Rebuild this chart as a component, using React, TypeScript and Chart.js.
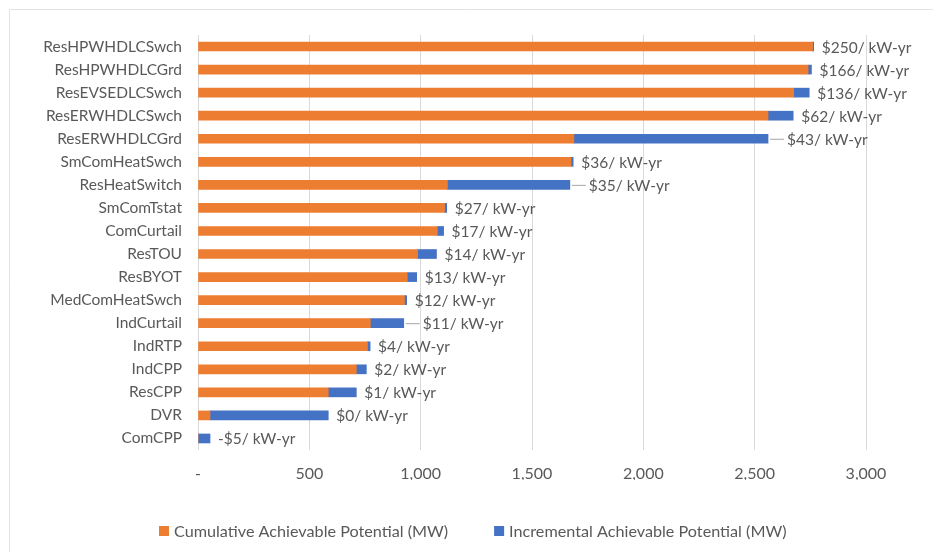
import React, { useEffect, useRef } from "react";
import { Chart, registerables } from "chart.js";

Chart.register(...registerables);

const categories = [
  "ResHPWHDLCSwch",
  "ResHPWHDLCGrd",
  "ResEVSEDLCSwch",
  "ResERWHDLCSwch",
  "ResERWHDLCGrd",
  "SmComHeatSwch",
  "ResHeatSwitch",
  "SmComTstat",
  "ComCurtail",
  "ResTOU",
  "ResBYOT",
  "MedComHeatSwch",
  "IndCurtail",
  "IndRTP",
  "IndCPP",
  "ResCPP",
  "DVR",
  "ComCPP",
];

const cumulative = [2760, 2740, 2675, 2560, 1688, 1675, 1120, 1107, 1075, 986, 940, 927, 774, 761, 711, 585, 54, 0];
const incremental = [5, 15, 70, 113, 872, 10, 550, 10, 28, 85, 42, 10, 150, 12, 45, 126, 531, 54];

const costLabels = [
  "$250/ kW-yr",
  "$166/ kW-yr",
  "$136/ kW-yr",
  "$62/ kW-yr",
  "$43/ kW-yr",
  "$36/ kW-yr",
  "$35/ kW-yr",
  "$27/ kW-yr",
  "$17/ kW-yr",
  "$14/ kW-yr",
  "$13/ kW-yr",
  "$12/ kW-yr",
  "$11/ kW-yr",
  "$4/ kW-yr",
  "$2/ kW-yr",
  "$1/ kW-yr",
  "$0/ kW-yr",
  "-$5/ kW-yr",
];

const seriesNames = ["Cumulative Achievable Potential (MW)", "Incremental Achievable Potential (MW)"];
const xMin = 0;
const xMax = 3000;
const xStep = 500;

// rows whose label is connected by a leader line
const leaderLineRows = [4, 6, 12];

const ORANGE = "#ED7D31";
const BLUE = "#4472C4";
const TEXT = "#595959";
const GRID = "#d9d9d9";
const FONT = "Lato, 'Open Sans', sans-serif";

const framePlugin = {
  id: "frame",
  beforeDraw(chart: any) {
    const { ctx, width, height } = chart;
    ctx.save();
    ctx.fillStyle = "#ffffff";
    ctx.fillRect(0, 0, width, height);
    ctx.strokeStyle = "#e3e3e3";
    ctx.lineWidth = 1;
    ctx.beginPath();
    ctx.moveTo(9.5, height);
    ctx.lineTo(9.5, 9.5);
    ctx.lineTo(width, 9.5);
    ctx.stroke();
    ctx.restore();
  },
};

const labelPlugin = {
  id: "costLabels",
  afterDatasetsDraw(chart: any) {
    const { ctx } = chart;
    const meta = chart.getDatasetMeta(1);
    ctx.save();
    ctx.font = `15.5px ${FONT}`;
    ctx.fillStyle = TEXT;
    ctx.textBaseline = "middle";
    ctx.textAlign = "left";
    meta.data.forEach((el: any, i: number) => {
      const xEnd = el.x;
      const y = el.y;
      let tx = xEnd + 8;
      if (leaderLineRows.includes(i)) {
        ctx.strokeStyle = "#a6a6a6";
        ctx.lineWidth = 1;
        ctx.beginPath();
        ctx.moveTo(xEnd + 2, y + 0.5);
        ctx.lineTo(xEnd + 16, y + 0.5);
        ctx.stroke();
        tx = xEnd + 19;
      }
      ctx.fillText(costLabels[i], tx, y + 1);
    });
    ctx.restore();
  },
};

const legendPlugin = {
  id: "customLegend",
  afterDraw(chart: any) {
    const { ctx } = chart;
    const colors = [ORANGE, BLUE];
    ctx.save();
    ctx.font = `16.2px ${FONT}`;
    ctx.textBaseline = "middle";
    ctx.textAlign = "left";
    const y = 531;
    let x = 159;
    seriesNames.forEach((name, i) => {
      ctx.fillStyle = colors[i];
      ctx.fillRect(x, y - 5, 10, 10);
      ctx.fillStyle = TEXT;
      ctx.fillText(name, x + 15, y + 1);
      x += 15 + ctx.measureText(name).width + 46;
    });
    ctx.restore();
  },
};

export default function App() {
  const canvasRef = useRef<HTMLCanvasElement | null>(null);

  useEffect(() => {
    const canvas = canvasRef.current;
    if (!canvas) return;
    const chart = new Chart(canvas, {
      type: "bar",
      data: {
        labels: categories,
        datasets: [
          {
            label: seriesNames[0],
            data: cumulative,
            backgroundColor: ORANGE,
            barThickness: 9,
          },
          {
            label: seriesNames[1],
            data: incremental,
            backgroundColor: BLUE,
            barThickness: 9,
          },
        ],
      },
      options: {
        indexAxis: "y",
        animation: false,
        responsive: false,
        maintainAspectRatio: false,
        devicePixelRatio: 1,
        layout: { padding: { left: 0, right: 67, top: 35, bottom: 72 } },
        plugins: {
          legend: { display: false },
          tooltip: { enabled: false },
        },
        scales: {
          x: {
            stacked: true,
            min: xMin,
            max: xMax,
            afterFit: (s: any) => {
              s.height = 30;
            },
            ticks: {
              stepSize: xStep,
              color: TEXT,
              font: { family: FONT, size: 16 },
              padding: 14,
              callback: (v: any) => (Number(v) === 0 ? "-" : Number(v).toLocaleString("en-US")),
            },
            grid: { color: GRID, drawTicks: false, lineWidth: 1 },
            border: { display: false },
          },
          y: {
            stacked: true,
            afterFit: (s: any) => {
              s.width = 198;
            },
            ticks: {
              color: TEXT,
              font: { family: FONT, size: 15.5 },
              padding: 16,
              autoSkip: false,
            },
            grid: { display: false, drawTicks: false },
            border: { display: false },
          },
        },
      },
      plugins: [framePlugin, labelPlugin, legendPlugin],
    });
    return () => chart.destroy();
  }, []);

  return (
    <div style={{ position: "fixed", left: 0, top: 0, width: 933, height: 552, background: "#fff" }}>
      <canvas ref={canvasRef} width={933} height={552} style={{ width: 933, height: 552, display: "block" }} />
    </div>
  );
}
